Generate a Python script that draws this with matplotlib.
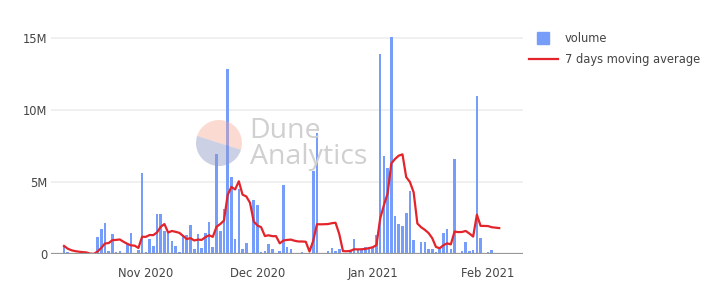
import pandas as pd
import matplotlib
matplotlib.use("Agg")
import matplotlib.pyplot as plt
from matplotlib.lines import Line2D
from matplotlib.patches import Wedge

# --- datos (millones) ---
start_date = "2020-10-10"
volume_m = [
    0.58, 0.19, 0.07, 0.03, 0.02, 0.02, 0.02, 0.03, 0.05, 1.18,
    1.76, 2.18, 0.25, 1.39, 0.19, 0.23, 0.12, 0.72, 1.46, 0.07,
    0.30, 5.65, 0.14, 1.06, 0.60, 2.82, 2.82, 1.64, 1.46, 0.95,
    0.60, 0.16, 1.32, 1.32, 2.01, 0.35, 1.41, 0.44, 1.46, 2.27,
    0.51, 6.94, 1.64, 3.15, 12.85, 5.37, 1.04, 4.51, 0.39, 0.81,
    0.12, 3.75, 3.40, 0.19, 0.23, 0.72, 0.39, 0.12, 0.25, 4.79,
    0.53, 0.35, 0.12, 0.07, 0.14, 0.07, 0.05, 5.79, 8.40, 0.07,
    0.12, 0.23, 0.46, 0.23, 0.35, 0.05, 0.05, 0.30, 1.04, 0.35,
    0.30, 0.49, 0.49, 0.49, 1.34, 13.90, 6.83, 6.02, 15.10, 2.66,
    2.08, 1.97, 2.89, 4.40, 1.00, 0.00, 0.83, 0.83, 0.39, 0.37,
    0.14, 0.37, 1.46, 1.78, 0.35, 6.60, 0.07, 0.23, 0.83, 0.25,
    0.30, 11.00, 1.11, 0.07, 0.14, 0.28, 0.02, 0.09,
]
ma7_m = [
    0.58, 0.39, 0.28, 0.22, 0.18, 0.15, 0.13, 0.05, 0.03, 0.19,
    0.44, 0.75, 0.78, 0.98, 1.00, 1.03, 0.87, 0.73, 0.62, 0.60,
    0.44, 1.22, 1.21, 1.34, 1.33, 1.52, 1.91, 2.10, 1.51, 1.62,
    1.56, 1.49, 1.28, 1.06, 1.12, 0.96, 1.02, 1.00, 1.19, 1.32,
    1.21, 1.91, 2.10, 2.34, 4.12, 4.68, 4.50, 5.07, 4.14, 4.02,
    3.58, 2.28, 2.00, 1.88, 1.27, 1.32, 1.26, 1.26, 0.76, 0.96,
    1.00, 1.02, 0.94, 0.89, 0.89, 0.87, 0.19, 0.94, 2.09, 2.08,
    2.09, 2.10, 2.16, 2.19, 1.41, 0.22, 0.21, 0.24, 0.35, 0.34,
    0.35, 0.37, 0.43, 0.49, 0.64, 2.48, 3.41, 4.22, 6.31, 6.62,
    6.85, 6.94, 5.36, 5.02, 4.30, 2.14, 1.88, 1.70, 1.48, 1.12,
    0.51, 0.42, 0.63, 0.76, 0.69, 1.58, 1.54, 1.55, 1.62, 1.44,
    1.23, 2.75, 1.97, 1.97, 1.96, 1.88, 1.85, 1.82,
]
tick_dates = ["2020-11-01", "2020-12-01", "2021-01-01", "2021-02-01"]
tick_labels = ["Nov 2020", "Dec 2020", "Jan 2021", "Feb 2021"]
y_ticks = [0, 5e6, 10e6, 15e6]
y_labels = ["0", "5M", "10M", "15M"]

BAR_COLOR = "#779dfb"
LINE_COLOR = "#e3242b"
TEXT_COLOR = "#444444"
FS = 8.3

plt.rcParams["font.family"] = ["DejaVu Sans"]

dates = pd.date_range(start_date, periods=len(volume_m), freq="D")
volume = [v * 1e6 for v in volume_m]
ma7 = [v * 1e6 for v in ma7_m]

fig = plt.figure(figsize=(7.2, 2.96), dpi=100)
ax = fig.add_axes([51 / 720, 1 - 254.3 / 296, (523 - 51) / 720, (254.3 - 25.3) / 296])

ax.bar(dates, volume, width=0.7, color=BAR_COLOR, zorder=2)
ax.plot(dates, ma7, color=LINE_COLOR, linewidth=1.6, zorder=3)

x0 = dates[0]
ax.set_xlim(x0 - pd.Timedelta(days=3.5), x0 + pd.Timedelta(days=123.4))
ax.set_ylim(0, 15.9e6)

ax.set_xticks(pd.to_datetime(tick_dates))
ax.set_xticklabels(tick_labels)
ax.set_yticks(y_ticks)
ax.set_yticklabels(y_labels)
ax.tick_params(axis="both", length=0, colors=TEXT_COLOR, labelsize=FS)
ax.tick_params(axis="x", pad=9.5)
ax.tick_params(axis="y", pad=2.5)

for s in ax.spines.values():
    s.set_visible(False)
ax.grid(axis="y", color="#eeeeee", linewidth=1.2, zorder=0)
ax.grid(axis="x", visible=False)
ax.axhline(0, color="#999999", linewidth=1.6, zorder=4)

# marca de agua
wm = fig.add_axes([0, 0, 1, 1], facecolor="none")
wm.set_xlim(0, 720)
wm.set_ylim(296, 0)
wm.axis("off")
wm.add_patch(Wedge((219, 143), 23, -162, 17, facecolor="#f6a78e", alpha=0.4, edgecolor="none"))
wm.add_patch(Wedge((219, 143), 23, 17, 198, facecolor="#8e98c6", alpha=0.45, edgecolor="none"))
wm.text(249, 131, "Dune", fontsize=20.5, color="#d0d0d0", va="center", ha="left",
        family="Open Sans")
wm.text(250, 157, "Analytics", fontsize=20.5, color="#d0d0d0", va="center", ha="left",
        family="Open Sans")

handles = [
    Line2D([], [], marker="s", markersize=8.5, linestyle="none", color=BAR_COLOR),
    Line2D([], [], color=LINE_COLOR, linewidth=1.6),
]
fig.legend(handles, ["volume", "7 days moving average"], loc="upper left",
           bbox_to_anchor=(529 / 720, 1 - 32.5 / 296), frameon=False,
           fontsize=FS, labelcolor=TEXT_COLOR, handlelength=2.5,
           handletextpad=0.6, labelspacing=0.68, borderaxespad=0, borderpad=0)

fig.savefig("out.png", dpi=100)
